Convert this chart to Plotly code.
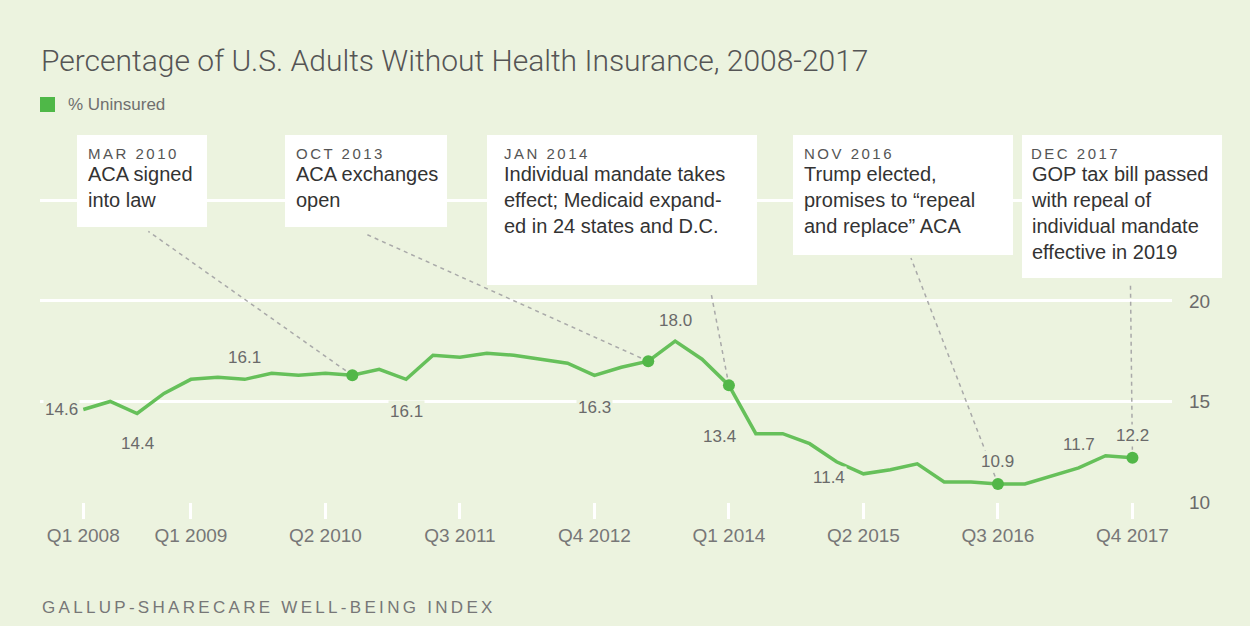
import plotly.graph_objects as go

# ---- data -------------------------------------------------------------
quarters = [f"Q{q} {yr}" for yr in range(2008, 2018) for q in range(1, 5)]
uninsured = [
    14.6, 15.0, 14.4, 15.4,   # 2008
    16.1, 16.2, 16.1, 16.4,   # 2009
    16.3, 16.4, 16.3, 16.6,   # 2010
    16.1, 17.3, 17.2, 17.4,   # 2011
    17.3, 17.1, 16.9, 16.3,   # 2012
    16.7, 17.0, 18.0, 17.1,   # 2013
    15.8, 13.4, 13.4, 12.9,   # 2014
    12.0, 11.4, 11.6, 11.9,   # 2015
    11.0, 11.0, 10.9, 10.9,   # 2016
    11.3, 11.7, 12.3, 12.2,   # 2017
]
tick_quarters = ["Q1 2008", "Q1 2009", "Q2 2010", "Q3 2011", "Q4 2012",
                 "Q1 2014", "Q2 2015", "Q3 2016", "Q4 2017"]
y_ticks = [10, 15, 20, 25]

# labelled points: quarter, label anchor, x shift, y shift (pixels)
labelled = [
    ("Q1 2008", "right", -3, 0),
    ("Q3 2008", "center", 0, -30),
    ("Q3 2009", "center", 0, 22),
    ("Q1 2011", "center", 0, -32),
    ("Q4 2012", "center", 0, -32),
    ("Q3 2013", "center", 0, 21),
    ("Q2 2014", "right", -18, -3),
    ("Q2 2015", "right", -16, -4),
    ("Q3 2016", "center", 0, 22),
    ("Q2 2017", "center", 0, 23),
    ("Q4 2017", "center", 0, 22),
]

event_dates = ["MAR 2010", "OCT 2013", "JAN 2014", "NOV 2016", "DEC 2017"]
event_texts = [
    "ACA signed<br>into law",
    "ACA exchanges<br>open",
    "Individual mandate takes<br>effect; Medicaid expand-<br>ed in 24 states and D.C.",
    "Trump elected,<br>promises to \u201crepeal<br>and replace\u201d ACA",
    "GOP tax bill passed<br>with repeal of<br>individual mandate<br>effective in 2019",
]
event_quarters = ["Q3 2010", "Q2 2013", "Q1 2014", "Q3 2016", "Q4 2017"]

# ---- styling / layout geometry (pixels) ----------------------------------
W, H = 1250, 626
PLOT_L, PLOT_R, PLOT_T, PLOT_B = 40, 1172, 130, 502
BG = "#ecf3df"
GREEN_LINE = "#66c05a"
GREEN_DOT = "#52b748"
GREY = "#6a6a6a"
FONT = "Liberation Sans, Arial, sans-serif"

# note boxes: left, top, right, bottom, text left
boxes = [
    (77, 135, 207, 227, 87),
    (285, 135, 447, 227, 295),
    (487, 135, 757, 285, 503),
    (793, 135, 1013, 255, 803),
    (1022, 135, 1222, 278, 1030),
]
# connector end (offset from the marked point, pixels, up positive)
connectors = [(-204, 144), (-282, 127), (-18, 93), (-87, 226), (-2, 173)]


def px(x):
    return (x - PLOT_L) / (PLOT_R - PLOT_L)


def py(y):
    return (PLOT_B - y) / (PLOT_B - PLOT_T)


value_of = dict(zip(quarters, uninsured))

fig = go.Figure()

fig.add_trace(go.Scatter(
    x=quarters, y=uninsured, mode="lines",
    line=dict(color=GREEN_LINE, width=3.5),
    hoverinfo="x+y", showlegend=False,
))

fig.add_trace(go.Scatter(
    x=event_quarters, y=[value_of[q] for q in event_quarters],
    mode="markers", marker=dict(color=GREEN_DOT, size=12),
    hoverinfo="x+y", showlegend=False,
))

shapes = []
annotations = []

# dashed connectors from each marked point up to its note
for q, (dx, dy) in zip(event_quarters, connectors):
    shapes.append(dict(
        type="line", xref="x", yref="y",
        xsizemode="pixel", ysizemode="pixel",
        xanchor=q, yanchor=value_of[q],
        x0=0, y0=0, x1=dx, y1=dy,
        line=dict(color="#a9a9a9", width=1.5, dash="4px,4px"),
        layer="between",
    ))

# white note boxes and their text
for (l, t, r, b, tx), date, txt in zip(boxes, event_dates, event_texts):
    shapes.append(dict(
        type="rect", xref="paper", yref="paper",
        x0=px(l), x1=px(r), y0=py(b), y1=py(t),
        fillcolor="white", line=dict(width=0), layer="above",
    ))
    annotations.append(dict(
        xref="paper", yref="paper", x=px(tx), y=py(t + 9),
        xanchor="left", yanchor="top", showarrow=False, borderpad=0,
        text=f'<span style="letter-spacing:2.5px">{date}</span>',
        font=dict(family=FONT, size=15, color="#555555"),
    ))
    annotations.append(dict(
        xref="paper", yref="paper", x=px(tx), y=py(t + 27),
        xanchor="left", yanchor="top", showarrow=False, borderpad=0,
        align="left", text=txt,
        font=dict(family=FONT, size=20, color="#333333"),
    ))

# value labels
for q, anchor, xs, ys in labelled:
    annotations.append(dict(
        x=q, y=value_of[q], xref="x", yref="y",
        text=f"{value_of[q]:.1f}", showarrow=False,
        xanchor=anchor, yanchor="middle", xshift=xs, yshift=ys,
        font=dict(family=FONT, size=17, color=GREY),
        bgcolor=BG, borderpad=1,
    ))

# legend swatch and label
shapes.append(dict(
    type="rect", xref="paper", yref="paper",
    x0=px(40), x1=px(55), y0=py(112), y1=py(97),
    fillcolor="#4fb848", line=dict(width=0), layer="above",
))
annotations.append(dict(
    xref="paper", yref="paper", x=px(66), y=py(104.5),
    xanchor="left", yanchor="middle", showarrow=False,
    text="% Uninsured", font=dict(family=FONT, size=17, color="#6f6f6f"),
))

# source line
annotations.append(dict(
    xref="paper", yref="paper", x=px(40), y=py(607),
    xanchor="left", yanchor="middle", showarrow=False,
    text='<span style="letter-spacing:3.3px">GALLUP-SHARECARE WELL-BEING INDEX</span>',
    font=dict(family=FONT, size=17, color="#777777"),
))

fig.update_layout(
    width=W, height=H,
    margin=dict(l=PLOT_L, r=W - PLOT_R, t=PLOT_T, b=H - PLOT_B, pad=0),
    paper_bgcolor=BG, plot_bgcolor=BG,
    showlegend=False,
    title=dict(
        text="Percentage of U.S. Adults Without Health Insurance, 2008-2017",
        x=41 / W, xanchor="left", xref="container",
        y=1 - 60 / H, yanchor="middle", yref="container",
        font=dict(family="Roboto, Liberation Sans, sans-serif", size=30,
                  weight=300, color="#555555"),
    ),
    xaxis=dict(
        type="category", categoryorder="array", categoryarray=quarters,
        range=[-1.61, 40.47],
        tickmode="array", tickvals=tick_quarters, ticktext=tick_quarters,
        ticks="outside", ticklen=16, tickwidth=2.5, tickcolor="white",
        showgrid=False, showline=False, zeroline=False,
        tickfont=dict(family=FONT, size=19, color="#777777"),
        fixedrange=True,
    ),
    yaxis=dict(
        side="right", range=[10, 28.5],
        tickmode="array", tickvals=y_ticks,
        ticks="", ticklabelstandoff=16,
        showgrid=True, gridcolor="white", gridwidth=2.5,
        showline=False, zeroline=False,
        tickfont=dict(family=FONT, size=19, color="#6a6a6a"),
        fixedrange=True,
    ),
    shapes=shapes,
    annotations=annotations,
)

fig.write_html("out.html")
